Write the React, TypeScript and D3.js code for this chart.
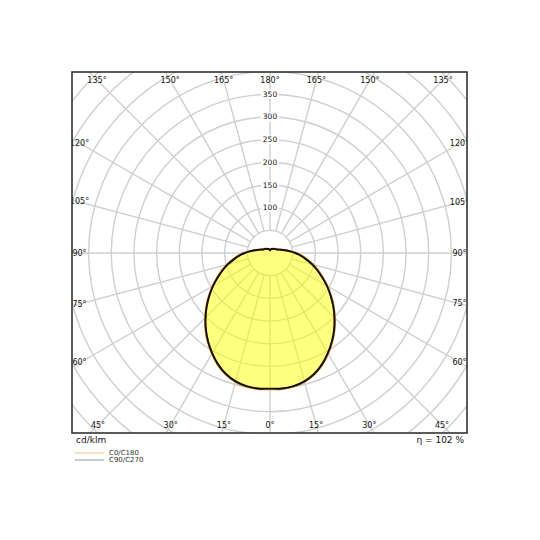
import React from 'react';
import * as d3 from 'd3';

// gamma angles (deg) and luminous intensity (cd/klm)
const gammas = [0, 5, 10, 15, 20, 25, 30, 35, 40, 45, 50, 55, 60, 65, 70, 75, 80, 85, 90,
  95, 100, 105, 110, 115, 120, 125, 130, 135, 140, 145, 150, 155, 160, 165, 170, 175, 180];
const c0c180 = [300, 301, 299, 294, 285, 272, 256, 239, 221, 202, 183, 164, 146, 128, 113, 98, 83, 70, 57,
  45, 35, 27, 22, 18, 16, 15, 14, 13, 12, 11, 10, 10, 9, 9, 8, 7, 6];
const c90c270 = [299, 300, 298, 293, 284, 271, 255, 238, 220, 201, 182, 163, 145, 127, 111, 96, 81, 68, 56,
  44, 35, 27, 22, 18, 16, 15, 14, 13, 12, 11, 10, 10, 9, 9, 8, 7, 6];

const ringValues = [50, 100, 150, 200, 250, 300, 350, 400, 450, 500, 550, 600, 650];
const ringLabels = [100, 150, 200, 250, 300, 350];
const spokes = d3.range(0, 360, 15);
const edgeLabels = [-165, -150, -135, -120, -105, -90, -75, -60, -45, -30, -15, 0, 15, 30, 45, 60, 75, 90, 105, 120, 135, 150, 165, 180];

const App = () => {
  const box = { left: 72, top: 72, right: 467, bottom: 433 };
  const cx = 270;
  const cy = 253;
  const r = d3.scaleLinear().domain([0, 350]).range([0, 158.7]);

  const full = (vals: number[]) => {
    const right = gammas.map((g, i) => ({ g, v: vals[i] }));
    const left = gammas.slice(1, -1).reverse().map((g, i) => ({ g: -g, v: vals[gammas.length - 2 - i] }));
    return right.concat(left);
  };

  const line = d3
    .lineRadial<{ g: number; v: number }>()
    .angle((d) => Math.PI - (d.g * Math.PI) / 180)
    .radius((d) => r(d.v))
    .curve(d3.curveCatmullRomClosed.alpha(0.5));

  const dataC0 = full(c0c180);
  const dataC90 = full(c90c270);

  // label position: where the ray meets a box inset a few px
  const insetX = 7.5;
  const insetY = 8;
  const labelPos = (g: number) => {
    const a = (g * Math.PI) / 180;
    const dx = Math.sin(a);
    const dy = Math.cos(a);
    const ts: number[] = [];
    if (dx > 1e-6) ts.push((box.right - insetX - cx) / dx);
    if (dx < -1e-6) ts.push((box.left + insetX - cx) / dx);
    if (dy > 1e-6) ts.push((box.bottom - insetY - cy) / dy);
    if (dy < -1e-6) ts.push((box.top + insetY - cy) / dy);
    const t = Math.min(...ts);
    return [cx + t * dx, cy + t * dy];
  };

  const font = 'DejaVu Sans, sans-serif';

  return (
    <svg width={540} height={540} style={{ position: 'absolute', left: 0, top: 0, background: '#fff' }} fontFamily={font}>
      <defs>
        <clipPath id="plot-clip">
          <rect x={box.left} y={box.top} width={box.right - box.left} height={box.bottom - box.top} />
        </clipPath>
      </defs>
      <rect x={0} y={0} width={540} height={540} fill="#fff" />
      <g clipPath="url(#plot-clip)">
        <g transform={`translate(${cx},${cy})`}>
          {ringValues.map((v) => (
            <circle key={v} r={r(v)} fill="none" stroke="#cfcfcf" strokeWidth={1.4} />
          ))}
          {spokes.map((s) => {
            const a = (s * Math.PI) / 180;
            return (
              <line
                key={s}
                x1={r(50) * Math.sin(a)}
                y1={r(50) * Math.cos(a)}
                x2={r(700) * Math.sin(a)}
                y2={r(700) * Math.cos(a)}
                stroke="#cfcfcf"
                strokeWidth={1.4}
              />
            );
          })}
          <path d={line(dataC0) || ''} fill="#ffff00" fillOpacity={0.5} stroke="none" />
          <path d={line(dataC0) || ''} fill="none" stroke="#e08a10" strokeWidth={2.2} />
          <path d={line(dataC90) || ''} fill="none" stroke="#111" strokeWidth={1.9} />
          {ringLabels.map((v) => (
            <g key={v}>
              <rect x={-9} y={-r(v) - 4.5} width={18} height={9} fill="#fff" />
              <text x={0} y={-r(v)} textAnchor="middle" dominantBaseline="central" fontSize={7.5} fill="#111">
                {v}
              </text>
            </g>
          ))}
        </g>
        {edgeLabels.map((g) => {
          const [x, y] = labelPos(g);
          return (
            <text key={g} x={x} y={y} textAnchor="middle" dominantBaseline="central" fontSize={8} fill="#111">
              {`${Math.abs(g)}°`}
            </text>
          );
        })}
      </g>
      <rect
        x={box.left}
        y={box.top}
        width={box.right - box.left}
        height={box.bottom - box.top}
        fill="none"
        stroke="#333"
        strokeWidth={1.6}
      />
      <text x={76} y={440} dominantBaseline="central" fontSize={9} fill="#111">
        cd/klm
      </text>
      <text x={464} y={440} textAnchor="end" dominantBaseline="central" fontSize={9} fill="#111">
        η = 102 %
      </text>
      <line x1={75} x2={104} y1={453} y2={453} stroke="#f5c27a" strokeWidth={1} />
      <text x={109} y={453} dominantBaseline="central" fontSize={7} fill="#333">
        C0/C180
      </text>
      <line x1={75} x2={104} y1={460} y2={460} stroke="#8a9a9a" strokeWidth={1} />
      <text x={109} y={460} dominantBaseline="central" fontSize={7} fill="#333">
        C90/C270
      </text>
    </svg>
  );
};

export default App;
